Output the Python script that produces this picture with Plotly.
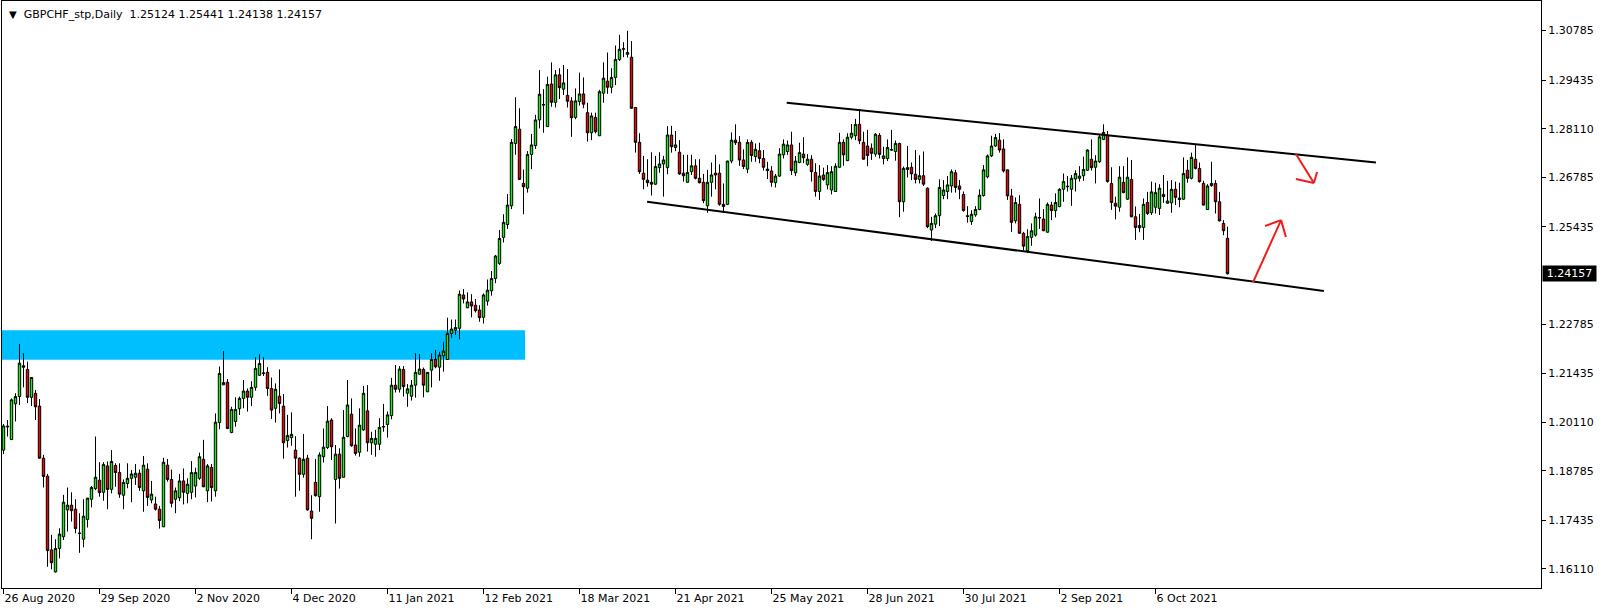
import pandas as pd
import plotly.graph_objects as go

# ---------------- data ----------------
open_ = [1.1935,1.1998,1.1964,1.2061,1.2081,1.2165,1.2155,1.2079,1.2090,1.2055,
1.1913,1.1864,1.1663,1.1603,1.1667,1.1699,1.1772,1.1785,1.1774,1.1709,
1.1692,1.1746,1.1801,1.1830,1.1853,1.1820,1.1892,1.1828,1.1893,1.1874,
1.1812,1.1844,1.1858,1.1861,1.1872,1.1824,1.1883,1.1799,1.1788,1.1774,
1.1726,1.1894,1.1855,1.1801,1.1805,1.1851,1.1817,1.1820,1.1837,1.1858,
1.1910,1.1824,1.1888,1.1824,1.2010,1.2113,1.2120,1.1983,1.2013,1.2048,
1.2076,1.2096,1.2079,1.2106,1.2139,1.2144,1.2147,1.2103,1.2049,1.2082,
1.2055,1.1961,1.1969,1.1935,1.1913,1.1869,1.1913,1.1769,1.1847,1.1808,
1.1917,1.1942,1.2017,1.1855,1.1924,1.1861,1.1972,1.2033,1.1949,1.1929,
1.1990,1.2042,1.1955,1.1951,1.1951,1.1998,1.2005,1.2029,1.2112,1.2101,
1.2155,1.2090,1.2082,1.2112,1.2142,1.2155,1.2094,1.2153,1.2182,1.2161,
1.2192,1.2182,1.2253,1.2262,1.2267,1.2358,1.2323,1.2339,1.2330,1.2317,
1.2297,1.2341,1.2369,1.2403,1.2444,1.2515,1.2550,1.2601,1.2771,1.2810,
1.2662,1.2649,1.2741,1.2765,1.2835,1.2877,1.2817,1.2933,1.2883,1.2958,
1.2919,1.2902,1.2887,1.2842,1.2885,1.2906,1.2855,1.2800,1.2842,1.2792,
1.2908,1.2941,1.2924,1.2951,1.3000,1.3028,1.3014,1.3006,1.2869,1.2774,
1.2690,1.2671,1.2665,1.2660,1.2705,1.2715,1.2705,1.2794,1.2760,1.2747,
1.2690,1.2665,1.2694,1.2710,1.2676,1.2665,1.2601,1.2665,1.2690,1.2690,
1.2605,1.2605,1.2723,1.2780,1.2774,1.2726,1.2701,1.2774,1.2735,1.2751,
1.2730,1.2701,1.2696,1.2664,1.2682,1.2740,1.2749,1.2767,1.2691,1.2719,
1.2742,1.2714,1.2728,1.2692,1.2640,1.2685,1.2658,1.2644,1.2640,1.2706,
1.2774,1.2724,1.2788,1.2792,1.2823,1.2774,1.2764,1.2758,1.2742,1.2793,
1.2730,1.2730,1.2753,1.2749,1.2771,1.2612,1.2700,1.2706,1.2687,1.2673,
1.2683,1.2649,1.2535,1.2551,1.2574,1.2629,1.2640,1.2655,1.2691,1.2655,
1.2632,1.2574,1.2558,1.2576,1.2591,1.2629,1.2680,1.2737,1.2764,1.2780,
1.2756,1.2699,1.2628,1.2560,1.2605,1.2526,1.2479,1.2515,1.2521,1.2569,
1.2565,1.2529,1.2603,1.2588,1.2599,1.2646,1.2653,1.2646,1.2674,1.2676,
1.2683,1.2698,1.2728,1.2706,1.2721,1.2782,1.2794,1.2662,1.2608,1.2597,
1.2665,1.2619,1.2673,1.2571,1.2547,1.2542,1.2610,1.2582,1.2597,1.2594,
1.2632,1.2608,1.2609,1.2646,1.2622,1.2619,1.2698,1.2676,1.2728,1.2703,
1.2662,1.2591,1.2656,1.2662,1.2612,1.2553,1.25124]

high = [1.2006,1.2017,1.2076,1.2090,1.2224,1.2199,1.2176,1.2134,1.2099,1.2074,
1.1922,1.1870,1.1704,1.1692,1.1722,1.1813,1.1833,1.1820,1.1801,1.1763,
1.1801,1.1805,1.1837,1.1972,1.1902,1.1902,1.1904,1.1935,1.1899,1.1899,
1.1855,1.1899,1.1881,1.1897,1.1882,1.1919,1.1899,1.1851,1.1808,1.1783,
1.1914,1.1911,1.1882,1.1833,1.1870,1.1885,1.1858,1.1905,1.1887,1.1928,
1.1963,1.1897,1.1897,1.2035,1.2163,1.2205,1.2129,1.2053,1.2079,1.2081,
1.2126,1.2103,1.2123,1.2188,1.2196,1.2188,1.2161,1.2133,1.2117,1.2155,
1.2088,1.2031,1.2038,1.1973,1.1915,1.1979,1.1922,1.1812,1.1911,1.1929,
1.1994,1.2055,1.2022,1.1949,1.1940,1.2044,1.2126,1.2076,1.1994,1.2049,
1.2110,1.2112,1.1985,1.1990,1.2022,1.2061,1.2040,1.2132,1.2167,1.2164,
1.2164,1.2115,1.2126,1.2199,1.2197,1.2160,1.2148,1.2199,1.2208,1.2203,
1.2230,1.2296,1.2291,1.2291,1.2370,1.2374,1.2365,1.2360,1.2347,1.2330,
1.2362,1.2400,1.2423,1.2467,1.2535,1.2578,1.2633,1.2783,1.2897,1.2867,
1.2700,1.2750,1.2797,1.2849,1.2971,1.2919,1.2953,1.2992,1.2971,1.2976,
1.2985,1.2974,1.2897,1.2921,1.2964,1.2951,1.2882,1.2855,1.2855,1.2917,
1.2992,1.3019,1.2976,1.3038,1.3067,1.3047,1.3078,1.3050,1.2870,1.2799,
1.2737,1.2728,1.2747,1.2737,1.2747,1.2737,1.2818,1.2819,1.2805,1.2780,
1.2740,1.2740,1.2740,1.2728,1.2728,1.2688,1.2699,1.2719,1.2740,1.2714,
1.2662,1.2724,1.2801,1.2823,1.2791,1.2755,1.2782,1.2780,1.2771,1.2773,
1.2753,1.2721,1.2709,1.2688,1.2758,1.2782,1.2779,1.2803,1.2737,1.2773,
1.2788,1.2742,1.2739,1.2717,1.2712,1.2705,1.2712,1.2709,1.2717,1.2800,
1.2782,1.2799,1.2824,1.2838,1.2864,1.2803,1.2808,1.2771,1.2799,1.2799,
1.2762,1.2782,1.2808,1.2779,1.2773,1.2708,1.2764,1.2719,1.2753,1.2739,
1.2749,1.2651,1.2571,1.2580,1.2673,1.2671,1.2682,1.2700,1.2699,1.2671,
1.2640,1.2600,1.2589,1.2600,1.2646,1.2712,1.2741,1.2792,1.2797,1.2799,
1.2782,1.2699,1.2647,1.2624,1.2630,1.2530,1.2537,1.2553,1.2582,1.2621,
1.2592,1.2610,1.2612,1.2635,1.2649,1.2689,1.2682,1.2685,1.2698,1.2709,
1.2735,1.2755,1.2782,1.2739,1.2797,1.2823,1.2805,1.2706,1.2626,1.2709,
1.2709,1.2733,1.2726,1.2599,1.2579,1.2621,1.2639,1.2667,1.2664,1.2660,
1.2685,1.2669,1.2671,1.2667,1.2664,1.2733,1.2726,1.2746,1.2769,1.2719,
1.2669,1.2660,1.2721,1.2671,1.2639,1.2562,1.25441]

low = [1.1924,1.1972,1.1962,1.2013,1.2058,1.2106,1.2063,1.2055,1.2017,1.1912,
1.1833,1.1617,1.1610,1.1601,1.1640,1.1690,1.1713,1.1740,1.1708,1.1655,
1.1670,1.1724,1.1779,1.1826,1.1808,1.1797,1.1774,1.1817,1.1835,1.1805,
1.1774,1.1831,1.1793,1.1840,1.1824,1.1767,1.1783,1.1790,1.1770,1.1721,
1.1725,1.1849,1.1779,1.1763,1.1796,1.1787,1.1790,1.1801,1.1806,1.1854,
1.1834,1.1793,1.1795,1.1808,1.1992,1.2112,1.1992,1.1981,1.1999,1.2031,
1.2049,1.2040,1.2055,1.2097,1.2137,1.2137,1.2083,1.2020,1.2010,1.2035,
1.1912,1.1942,1.1947,1.1808,1.1824,1.1860,1.1770,1.1692,1.1808,1.1767,
1.1901,1.1938,1.1908,1.1735,1.1830,1.1860,1.1970,1.1944,1.1920,1.1917,
1.1988,1.1931,1.1922,1.1917,1.1935,1.1985,1.1969,1.2019,1.2092,1.2092,
1.2081,1.2053,1.2070,1.2078,1.2141,1.2079,1.2093,1.2106,1.2158,1.2124,
1.2149,1.2181,1.2240,1.2249,1.2237,1.2335,1.2322,1.2297,1.2310,1.2285,
1.2280,1.2329,1.2356,1.2390,1.2440,1.2501,1.2538,1.2592,1.2740,1.2672,
1.2578,1.2637,1.2701,1.2756,1.2812,1.2800,1.2816,1.2871,1.2869,1.2892,
1.2903,1.2869,1.2789,1.2837,1.2874,1.2867,1.2776,1.2780,1.2798,1.2791,
1.2882,1.2906,1.2908,1.2930,1.2996,1.3006,1.3005,1.2865,1.2746,1.2688,
1.2646,1.2653,1.2629,1.2658,1.2691,1.2626,1.2687,1.2746,1.2750,1.2685,
1.2667,1.2664,1.2685,1.2673,1.2662,1.2608,1.2582,1.2626,1.2646,1.2601,
1.2582,1.2603,1.2717,1.2767,1.2710,1.2701,1.2690,1.2721,1.2721,1.2717,
1.2697,1.2674,1.2653,1.2651,1.2680,1.2730,1.2740,1.2685,1.2682,1.2717,
1.2717,1.2710,1.2667,1.2626,1.2617,1.2669,1.2646,1.2632,1.2639,1.2705,
1.2710,1.2723,1.2782,1.2780,1.2769,1.2727,1.2709,1.2726,1.2735,1.2730,
1.2714,1.2723,1.2751,1.2724,1.2570,1.2585,1.2678,1.2671,1.2662,1.2662,
1.2655,1.2540,1.2505,1.2540,1.2546,1.2619,1.2619,1.2637,1.2637,1.2619,
1.2585,1.2555,1.2549,1.2571,1.2589,1.2626,1.2676,1.2734,1.2762,1.2746,
1.2692,1.2617,1.2530,1.2553,1.2525,1.2479,1.2473,1.2492,1.2517,1.2538,
1.2532,1.2528,1.2562,1.2569,1.2597,1.2612,1.2640,1.2601,1.2640,1.2667,
1.2669,1.2696,1.2697,1.2662,1.2718,1.2780,1.2664,1.2590,1.2564,1.2585,
1.2635,1.2617,1.2570,1.2508,1.2529,1.2508,1.2576,1.2576,1.2580,1.2576,
1.2609,1.2607,1.2582,1.2603,1.2597,1.2617,1.2664,1.2673,1.2700,1.2664,
1.2602,1.2590,1.2653,1.2580,1.2558,1.2521,1.24138]

close = [1.2001,1.2000,1.2072,1.2081,1.2172,1.2161,1.2079,1.2133,1.2053,1.1913,
1.1863,1.1661,1.1628,1.1667,1.1706,1.1793,1.1785,1.1770,1.1721,1.1708,
1.1755,1.1804,1.1833,1.1861,1.1819,1.1896,1.1828,1.1904,1.1874,1.1815,
1.1847,1.1858,1.1870,1.1872,1.1833,1.1894,1.1806,1.1815,1.1774,1.1743,
1.1902,1.1855,1.1790,1.1824,1.1851,1.1820,1.1842,1.1874,1.1874,1.1917,
1.1835,1.1892,1.1833,1.2011,1.2144,1.2119,1.1994,1.2046,1.2046,1.2076,
1.2096,1.2079,1.2106,1.2158,1.2171,1.2145,1.2103,1.2044,1.2101,1.2062,
1.1955,1.1975,1.1978,1.1913,1.1869,1.1910,1.1772,1.1749,1.1811,1.1922,
1.1943,1.2014,1.1944,1.1924,1.1858,1.1970,1.2058,1.1947,1.1926,1.2003,
1.2090,1.1955,1.1967,1.1967,1.1997,1.1999,1.2031,1.2112,1.2101,1.2156,
1.2108,1.2102,1.2112,1.2147,1.2156,1.2112,1.2147,1.2182,1.2162,1.2194,
1.2205,1.2253,1.2265,1.2269,1.2360,1.2347,1.2339,1.2328,1.2315,1.2296,
1.2358,1.2371,1.2403,1.2464,1.2512,1.2556,1.2603,1.2774,1.2817,1.2673,
1.2653,1.2741,1.2767,1.2835,1.2905,1.2876,1.2932,1.2883,1.2958,1.2923,
1.2936,1.2886,1.2841,1.2887,1.2906,1.2878,1.2800,1.2846,1.2803,1.2912,
1.2949,1.2924,1.2951,1.3000,1.3028,1.3029,1.3019,1.2867,1.2774,1.2694,
1.2673,1.2664,1.2660,1.2708,1.2715,1.2726,1.2794,1.2762,1.2767,1.2688,
1.2683,1.2692,1.2710,1.2676,1.2664,1.2615,1.2665,1.2685,1.2685,1.2605,
1.2599,1.2723,1.2780,1.2773,1.2726,1.2708,1.2774,1.2738,1.2755,1.2730,
1.2706,1.2697,1.2665,1.2682,1.2742,1.2769,1.2767,1.2697,1.2723,1.2746,
1.2732,1.2728,1.2694,1.2640,1.2682,1.2673,1.2692,1.2694,1.2709,1.2774,
1.2740,1.2788,1.2799,1.2823,1.2778,1.2728,1.2738,1.2744,1.2796,1.2741,
1.2737,1.2760,1.2754,1.2771,1.2612,1.2703,1.2705,1.2688,1.2673,1.2683,
1.2660,1.2544,1.2553,1.2574,1.2651,1.2644,1.2658,1.2694,1.2651,1.2646,
1.2588,1.2572,1.2578,1.2591,1.2630,1.2699,1.2737,1.2764,1.2787,1.2753,
1.2696,1.2628,1.2556,1.2610,1.2526,1.2491,1.2517,1.2533,1.2571,1.2568,
1.2533,1.2605,1.2588,1.2610,1.2646,1.2667,1.2654,1.2676,1.2689,1.2682,
1.2700,1.2753,1.2705,1.2723,1.2789,1.2801,1.2667,1.2610,1.2600,1.2679,
1.2637,1.2679,1.2571,1.2542,1.2541,1.2605,1.2580,1.2639,1.2637,1.2649,
1.2626,1.2614,1.2646,1.2624,1.2618,1.2689,1.2676,1.2733,1.2703,1.2667,
1.2603,1.2655,1.2662,1.2612,1.2560,1.2533,1.24157]

n = len(close)
all_days = pd.bdate_range("2020-08-26", "2021-11-30")
dates = [d for d in all_days if not ((d.month == 12 and d.day == 25) or (d.month == 1 and d.day == 1))][:n]

x_labels = ["26 Aug 2020", "29 Sep 2020", "2 Nov 2020", "4 Dec 2020", "11 Jan 2021",
            "12 Feb 2021", "18 Mar 2021", "21 Apr 2021", "25 May 2021", "28 Jun 2021",
            "30 Jul 2021", "2 Sep 2021", "6 Oct 2021"]
y_ticks = [1.30785, 1.29435, 1.28110, 1.26785, 1.25435, 1.22785, 1.21435,
           1.20110, 1.18785, 1.17435, 1.16110]

title_text = "GBPCHF_stp,Daily\u00a0\u00a01.25124 1.25441 1.24138 1.24157"
last_price = 1.24157

# analysis objects (bar index, price)
zone_bars = [-2, 130.4]
zone_prices = [1.2181, 1.2262]
upper_line = [(195.8, 1.2882), (343.1, 1.2719)]
lower_line = [(160.9, 1.2612), (330.1, 1.2369)]
arrow_up = [[(312.4, 1.2393), (319.4, 1.2562)], [(319.4, 1.2562), (315.4, 1.2546)],
            [(319.4, 1.2562), (320.6, 1.2516)]]
arrow_down = [[(323.1, 1.2742), (327.6, 1.2663)], [(327.6, 1.2663), (323.1, 1.2674)],
              [(327.6, 1.2663), (328.4, 1.2693)]]

# ---------------- figure ----------------
date_str = [f"{d.day} {d.strftime('%b %Y')}" for d in dates]
idx = list(range(n))
tick_idx = [date_str.index(s) for s in x_labels]

GREEN = "#00ff00"
RED = "#f00000"
FONT = "DejaVu Sans"

fig = go.Figure()
fig.add_trace(go.Candlestick(
    x=idx, open=open_, high=high, low=low, close=close,
    increasing=dict(line=dict(color="black", width=1), fillcolor=GREEN),
    decreasing=dict(line=dict(color="black", width=1), fillcolor=RED),
    whiskerwidth=0, hoverinfo="skip", showlegend=False))

shapes = []
shapes.append(dict(type="rect", xref="x", yref="y", x0=zone_bars[0], x1=zone_bars[1],
                   y0=zone_prices[0], y1=zone_prices[1], fillcolor="#00bfff",
                   line=dict(width=0), layer="below"))
for (a, b) in [upper_line, lower_line]:
    shapes.append(dict(type="line", xref="x", yref="y", x0=a[0], y0=a[1], x1=b[0], y1=b[1],
                       line=dict(color="black", width=2)))
for seg in arrow_up + arrow_down:
    shapes.append(dict(type="line", xref="x", yref="y", x0=seg[0][0], y0=seg[0][1],
                       x1=seg[1][0], y1=seg[1][1], line=dict(color="#ee1c1c", width=2)))

annotations = [
    dict(xref="paper", yref="paper", x=0, y=1, xanchor="left", yanchor="top",
         xshift=5, yshift=-5, showarrow=False,
         text='<span style="font-size:10px">\u25bc</span>\u00a0\u00a0' + title_text,
         font=dict(family=FONT, size=11, color="black")),
    dict(xref="paper", yref="y", x=1, y=last_price, xanchor="left", yanchor="middle",
         xshift=1, showarrow=False, text=f"{last_price:.5f}", bgcolor="black",
         font=dict(family=FONT, size=11, color="white"), borderpad=1, width=51,
         align="center"),
]

fig.update_layout(
    width=1604, height=611,
    margin=dict(l=2, r=63, t=1, b=23),
    paper_bgcolor="white", plot_bgcolor="white",
    font=dict(family=FONT, size=11, color="black"),
    showlegend=False, boxgap=0.15,
    shapes=shapes, annotations=annotations,
    xaxis=dict(range=[-0.375, 384.375], showgrid=False, zeroline=False,
               showline=True, linecolor="black", linewidth=1, mirror=True,
               ticks="outside", ticklen=5, tickcolor="black",
               tickvals=tick_idx, ticktext=x_labels,
               ticklabelposition="outside right", automargin=False,
               rangeslider=dict(visible=False), fixedrange=True),
    yaxis=dict(side="right", range=[1.15591, 1.31593], showgrid=False, zeroline=False,
               showline=True, linecolor="black", linewidth=1, mirror=True,
               ticks="outside", ticklen=4, tickcolor="black",
               tickvals=y_ticks, ticktext=[f"{v:.5f}" for v in y_ticks],
               automargin=False, fixedrange=True),
)

fig.write_html("out.html", config={"displayModeBar": False, "staticPlot": True},
               post_script="document.body.style.margin='0px';document.body.style.overflow='hidden';")
